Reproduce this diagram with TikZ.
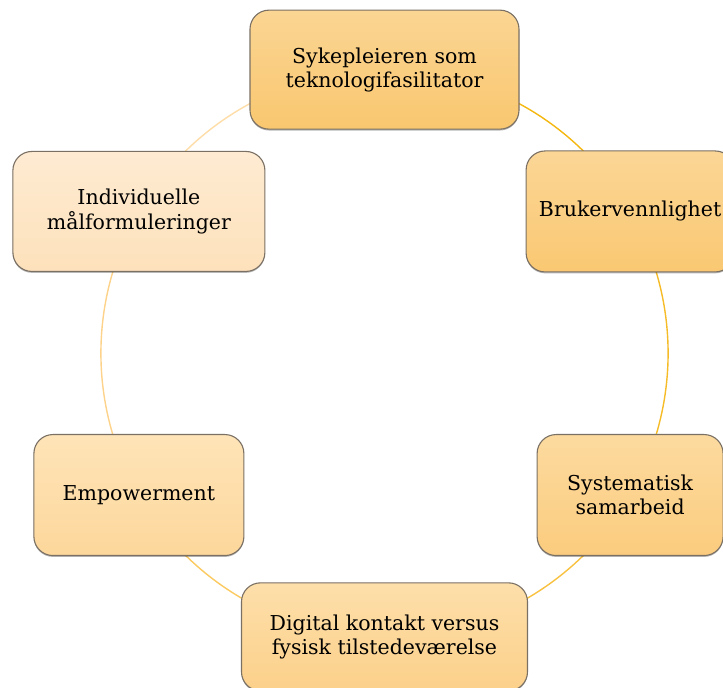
\documentclass[tikz,border=0pt]{standalone}
\usepackage{fontspec}
\setmainfont{DejaVu Serif}
\usetikzlibrary{backgrounds,shadows}
\definecolor{edge}{HTML}{7A7064}
\definecolor{aT}{HTML}{FBD593}\definecolor{aB}{HTML}{F9C76F}
\definecolor{bT}{HTML}{FBD696}\definecolor{bB}{HTML}{FAC872}
\definecolor{cT}{HTML}{FCDA9F}\definecolor{cB}{HTML}{FBCC7E}
\definecolor{dT}{HTML}{FDDFAA}\definecolor{dB}{HTML}{FCD08A}
\definecolor{eT}{HTML}{FEE4B8}\definecolor{eB}{HTML}{FDD79B}
\definecolor{fT}{HTML}{FEEBD2}\definecolor{fB}{HTML}{FDE1BB}
\definecolor{l1}{HTML}{F4B70F}\definecolor{l2}{HTML}{F6BC28}
\definecolor{l3}{HTML}{F8C240}\definecolor{l4}{HTML}{FBCA60}
\definecolor{l5}{HTML}{FDD28A}\definecolor{l6}{HTML}{FEDDA8}
\tikzset{
  box/.style={draw=edge, line width=1.1bp, rounded corners=19bp, align=center,
    inner sep=0pt, font=\fontsize{20.5bp}{24.3bp}\selectfont,
    drop shadow={shadow xshift=0bp, shadow yshift=-1.4bp, opacity=0.28, fill=black}},
  ring/.style={line width=1.4bp}
}
\begin{document}
\begin{tikzpicture}[x=1bp,y=1bp]
\useasboundingbox (0,0) rectangle (723,688);
\clip (0,0) rectangle (723,688);
\def\R{283.6}
\coordinate (C) at (384.5,334.75);
\node[box, top color=aT, bottom color=aB, minimum width=269bp, minimum height=119bp]
  (n1) at ([shift={(90:\R)}]C) {Sykepleieren som\\teknologifasilitator};
\node[box, top color=bT, bottom color=bB, minimum width=208bp, minimum height=121bp]
  (n2) at ([shift={(30:\R)}]C) {Brukervennlighet};
\node[box, top color=cT, bottom color=cB, minimum width=186bp, minimum height=121bp]
  (n3) at ([shift={(-30:\R)}]C) {Systematisk\\samarbeid};
\node[box, top color=dT, bottom color=dB, minimum width=286bp, minimum height=108bp]
  (n4) at ([shift={(-90:\R)}]C) {Digital kontakt versus\\fysisk tilstedeværelse};
\node[box, top color=eT, bottom color=eB, minimum width=210bp, minimum height=121bp]
  (n5) at ([shift={(-150:\R)}]C) {Empowerment};
\node[box, top color=fT, bottom color=fB, minimum width=252bp, minimum height=120bp]
  (n6) at ([shift={(150:\R)}]C) {Individuelle\\målformuleringer};
\begin{scope}[on background layer]
\draw[ring, l1] (n1.center) arc[start angle=90, end angle=30, radius=\R];
\draw[ring, l2] (n2.center) arc[start angle=30, end angle=-30, radius=\R];
\draw[ring, l3] (n3.center) arc[start angle=-30, end angle=-90, radius=\R];
\draw[ring, l4] (n4.center) arc[start angle=-90, end angle=-150, radius=\R];
\draw[ring, l5] (n5.center) arc[start angle=-150, end angle=-210, radius=\R];
\draw[ring, l6] (n6.center) arc[start angle=150, end angle=90, radius=\R];
\end{scope}
\end{tikzpicture}
\end{document}
